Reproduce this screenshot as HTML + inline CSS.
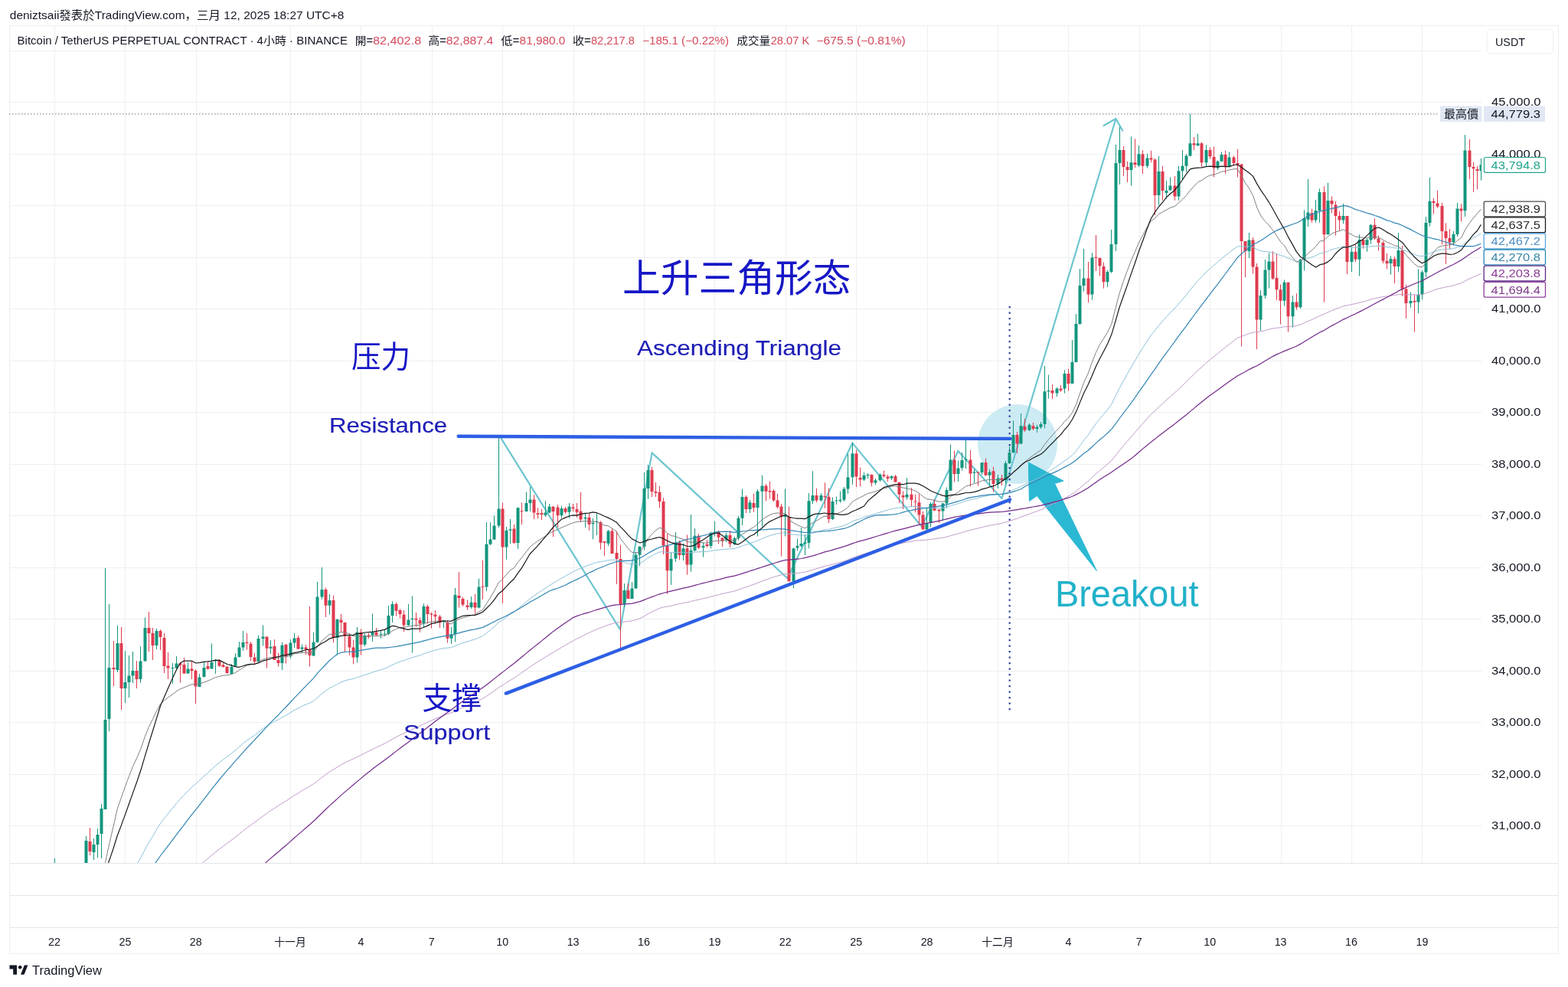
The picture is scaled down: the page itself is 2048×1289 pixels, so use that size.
<!DOCTYPE html>
<html><head><meta charset="utf-8"><title>BTCUSDT.P 4h - TradingView</title>
<style>
html,body{margin:0;padding:0;background:#fff;}
body{width:2048px;height:1289px;overflow:hidden;position:relative;font-family:"Liberation Sans","Noto Sans CJK TC",sans-serif;}
svg{position:absolute;left:0;top:0;}
svg text{font-family:"Liberation Sans","Noto Sans CJK TC",sans-serif;}
</style></head><body>
<svg width="2048" height="1289" viewBox="0 0 2048 1289">
<defs><clipPath id="plot"><rect x="12" y="33" width="1923" height="1094"/></clipPath></defs>
<rect width="2048" height="1289" fill="#fff"/>

<path d="M12.5 33.5H2035.5V1245.5H12.5Z" fill="none" stroke="#eceef2" stroke-width="1"/>
<path d="M12 1127.5H2036M12 1169.5H2036M12 1211.5H2036" stroke="#e3e5ea" stroke-width="1.2"/>
<path d="M12 66.5H1935M12 133.5H1935M12 201.5H1935M12 268.5H1935M12 336.5H1935M12 403.5H1935M12 471.5H1935M12 538.5H1935M12 606.5H1935M12 673.5H1935M12 741.5H1935M12 808.5H1935M12 876.5H1935M12 943.5H1935M12 1011.5H1935M12 1078.5H1935M71.5 33V1127M163.5 33V1127M256.5 33V1127M379.5 33V1127M471.5 33V1127M564.5 33V1127M656.5 33V1127M749.5 33V1127M841.5 33V1127M933.5 33V1127M1026.5 33V1127M1118.5 33V1127M1211.5 33V1127M1303.5 33V1127M1395.5 33V1127M1488.5 33V1127M1580.5 33V1127M1673.5 33V1127M1765.5 33V1127M1857.5 33V1127" stroke="#eeeff1" stroke-width="1" fill="none"/>
<circle cx="1329" cy="580" r="52" fill="#cdebf3"/>
<polyline points="652.9,569.8 810,822.2 851.5,591.4 1028.5,755.3 1113.4,578.6 1204,688 1251.4,589 1308.5,651 1457.5,155" fill="none" stroke="#6cc6d0" stroke-width="2.2" stroke-linejoin="round"/>
<path d="M1441.6 164L1457.5 155L1466.3 170.7" fill="none" stroke="#6cc6d0" stroke-width="2.2" stroke-linecap="round" stroke-linejoin="round"/>
<path d="M1318.7 400V932" stroke="#2d3f98" stroke-width="2.2" stroke-dasharray="2.2 5.3"/>
<g clip-path="url(#plot)">
<path d="M71.5 1121V1140M112.5 1092V1135M122.5 1095V1123M127.5 1082V1120M132.5 1050V1121M137.5 742V1057M142.5 789V955M153.5 817V878M163.5 850V918M168.5 856V911M173.5 851V892M183.5 844V892M189.5 806.5V863.5M204.5 821V848M225.5 866V893M230.5 857V873.4M245.5 865V880M260.5 880V897M266.5 865V884.5M276.5 840.5V873.4M281.5 861V880M302.5 867.2V880.5M307.5 853.3V870.3M312.5 838V858.6M317.5 824V850M337.5 829.6V864M343.5 816.4V843.5M353.5 836V854M368.5 838.8V875M379.5 835V860M384.5 827V846M394.5 841.5V853M409.5 826V856.6M414.5 759.7V839.5M420.5 741V782.8M430.5 776V802.6M440.5 808V855.5M466.5 819V865.4M476.5 827V844.3M486.5 801.5V838M497.5 823.8V833.8M502.5 823V831M507.5 791V829.4M512.5 785.3V813M533.5 789V817M538.5 778.5V852.4M553.5 788.4V819M579.5 810V820M589.5 819V841M594.5 768V838.4M615.5 779V795M625.5 755.6V794.4M635.5 682V772M640.5 682V712M645.5 673.4V705M651.5 570V689M661.5 688V730.8M666.5 678V710M676.5 662.6V716.9M687.5 642.4V668M692.5 636V668M712.5 654V675M717.5 658V670M733.5 660.6V676.7M743.5 657V676.7M764.5 670.4V689M774.5 676.7V704.3M779.5 670.4V699M794.5 691.8V713M815.5 762V792.6M825.5 760V782M830.5 721V768.5M835.5 713V739M841.5 617V718.6M846.5 607V651.7M876.5 721.6V763.8M882.5 695V734M892.5 709.7V732M902.5 672V746.6M907.5 690V720M918.5 708.4V727.5M928.5 694.5V716.3M933.5 680.7V700.5M948.5 695.9V707.7M959.5 701V712M964.5 674V705.8M969.5 638.5V686M979.5 653V670M989.5 639V700.5M995.5 620.7V687.3M1025.5 638.4V700.4M1036.5 715.5V768M1041.5 703.6V719.5M1046.5 689.3V714.7M1051.5 698V725M1056.5 644V716.3M1061.5 615.3V658.3M1072.5 644V655M1087.5 649.5V679M1092.5 648.7V659M1097.5 641.6V656.7M1102.5 636V655M1107.5 593V644.8M1113.5 578V632.8M1128.5 617V628M1133.5 618V625M1143.5 625V633M1149.5 618V629M1164.5 621V627M1184.5 624V652.5M1210.5 663.7V691.6M1215.5 655.6V688.5M1231.5 656.9V679.2M1236.5 636.4V663.7M1241.5 580.5V640.7M1251.5 601.6V629M1256.5 591V614.6M1261.5 571.8V612.2M1272.5 612.8V630.8M1282.5 604V620M1292.5 612.8V634.5M1303.5 620V638M1313.5 602V632.4M1318.5 583.4V606M1323.5 549.3V592M1333.5 540V580M1344.5 553V563M1354.5 554.7V564.8M1359.5 551V560M1364.5 477.9V559.4M1369.5 489.5V520.5M1380.5 505.8V518M1390.5 483.3V513.6M1400.5 444V501M1405.5 410V473M1410.5 351V424M1415.5 324.8V380.6M1426.5 330V391.5M1446.5 352.7V375M1451.5 300V356.6M1457.5 188.7V328M1462.5 165.8V241M1477.5 178.3V242.5M1487.5 190V218M1498.5 200.5V219.6M1513.5 204V267.6M1523.5 235.9V259.5M1528.5 231.4V249M1539.5 216.7V261.7M1544.5 196V234.4M1549.5 201.2V224.8M1554.5 148.8V204.2M1564.5 174.7V191M1575.5 189.4V217.4M1590.5 209.3V221.9M1595.5 198.3V211.5M1605.5 198.3V218.2M1631.5 304V337M1646.5 379V432M1652.5 339V390M1657.5 330.4V376.5M1677.5 365.4V399.6M1688.5 386V427.7M1698.5 338V403M1703.5 274.3V353.5M1708.5 234V296M1718.5 261V290.7M1723.5 246.4V290.7M1734.5 238.6V306.2M1754.5 265.8V292.2M1765.5 321.7V355M1775.5 306.2V360.5M1785.5 311.6V328.7M1790.5 293V318.6M1816.5 334.2V358.7M1826.5 304V355.4M1842.5 381.5V401.8M1852.5 351.3V409M1857.5 353V391.2M1862.5 283V362M1867.5 232V295.6M1898.5 301.9V320.7M1903.5 264.9V308.9M1913.5 176.2V283M1934.5 206.9V235.5" stroke="#12957d" stroke-width="1" fill="none"/>
<path d="M117.5 1081V1117M148.5 837V896M158.5 819V927M178.5 863V899M194.5 799V851M199.5 820V862M209.5 822V849M214.5 827V879M219.5 852V887M235.5 865V891.5M240.5 859V880M250.5 863.6V887M255.5 874V919M271.5 864V874.7M286.5 861V870.7M291.5 866V871.7M296.5 869.8V879.6M322.5 827V848.7M327.5 838V863M332.5 852.7V868M348.5 831.6V872.5M358.5 835V862M363.5 852.7V870.5M373.5 840.8V866.5M389.5 830V848M399.5 842V855M404.5 792V870.5M425.5 767.6V805.9M435.5 777.5V839.5M445.5 802V825.7M450.5 812.6V851M456.5 827V856M461.5 835.6V867.3M471.5 821.3V855.5M481.5 827V834.4M491.5 820V831M517.5 786.6V804.6M522.5 795.3V807.7M527.5 797V825M543.5 800V819M548.5 806.4V825.7M558.5 789.7V814.5M563.5 799.6V820.7M568.5 797V814.5M574.5 803V820M584.5 809.9V839.7M599.5 747V793.6M604.5 779.7V792M610.5 783.6V796.7M620.5 775.8V801.4M630.5 731.6V782.8M656.5 656.4V788M671.5 685V710M681.5 656.4V685M697.5 646.3V678M702.5 663.3V677.3M707.5 665V679M722.5 661V701M728.5 659V689M738.5 662V671M748.5 658V668M753.5 657V675.8M758.5 642.8V682M769.5 671V692.7M784.5 680.3V717.7M789.5 707V725.7M799.5 690V723M805.5 693.6V763M810.5 711.5V846M820.5 762V782M851.5 609.8V649M856.5 630V649M861.5 634.8V663.3M866.5 650V724M871.5 697V775.7M887.5 705.8V731.5M897.5 698.5V750.6M912.5 697V717M923.5 705V715M938.5 693V710.4M943.5 701.8V714.3M953.5 693V715M974.5 647V670M984.5 644.4V668.8M1000.5 632V654.3M1005.5 628.6V651.7M1010.5 639V655M1015.5 644.8V664M1020.5 658V726.7M1030.5 661.5V759.3M1066.5 637.6V656M1077.5 630.4V663.8M1082.5 637.6V683M1118.5 587.5V636M1123.5 610.6V635.2M1138.5 619.3V635.2M1154.5 614.5V624M1159.5 620V629M1169.5 620V630M1174.5 629.5V656.9M1179.5 641.3V665M1190.5 637V661.2M1195.5 645.7V669.3M1200.5 644.4V684.2M1205.5 668V691.6M1220.5 651.9V667.4M1226.5 665V683M1246.5 588.6V629.5M1267.5 588V635.7M1277.5 615.9V634.5M1287.5 598.5V621.5M1297.5 609.7V642.6M1308.5 620V634M1328.5 564V592M1338.5 547V564M1349.5 552V562M1374.5 502V521.3M1385.5 503V512M1395.5 481.7V510.5M1421.5 341.9V395.3M1431.5 307V354M1436.5 336.4V360.5M1441.5 342.6V376.7M1467.5 191V230M1472.5 210.8V238M1482.5 181.3V219M1492.5 196V227M1503.5 196.8V212.3M1508.5 207V280.8M1518.5 216.7V261.7M1534.5 230V261.7M1559.5 179V196M1569.5 185.7V218.2M1580.5 192.4V207.8M1585.5 191.6V231.4M1600.5 196.8V227M1611.5 203.4V216.7M1616.5 194.6V231.4M1621.5 214V452.5M1626.5 315V362M1636.5 310V357.7M1641.5 344V456M1662.5 328V365.4M1667.5 331.3V392M1672.5 371.4V423.5M1682.5 368.8V433.7M1693.5 383.3V404.7M1713.5 272.8V290.7M1729.5 243.3V394.7M1739.5 256.5V278.2M1744.5 262.7V307.7M1749.5 276V301.5M1759.5 282V358M1770.5 320V342M1780.5 311.6V324.8M1795.5 285.4V313.2M1800.5 307.4V327.7M1806.5 314.7V344M1811.5 331V351.3M1821.5 335V370M1831.5 321V387M1836.5 371.7V415.7M1847.5 384.7V433.6M1872.5 258.6V279.5M1877.5 248.8V271.8M1883.5 264.9V319.3M1888.5 291.4V345M1893.5 299V325.6M1908.5 266.3V289.3M1919.5 181.8V234M1924.5 211.8V250.9M1929.5 216.7V247.4" stroke="#df3a4e" stroke-width="1" fill="none"/>
<path d="M69.5 1135h4.0V1136h-4.0zM110.5 1098h4.0V1130h-4.0zM120.5 1103h4.0V1113h-4.0zM125.5 1090h4.0V1103h-4.0zM130.5 1056h4.0V1089h-4.0zM135.5 940h4.0V1057h-4.0zM140.5 872h4.0V939h-4.0zM151.5 840h4.0V875h-4.0zM161.5 891h4.0V899h-4.0zM166.5 882.6h4.0V891h-4.0zM171.5 876h4.0V882.6h-4.0zM181.5 863.5h4.0V887h-4.0zM187.5 820h4.0V863.5h-4.0zM202.5 824h4.0V843h-4.0zM223.5 872h4.0V873h-4.0zM228.5 866.4h4.0V872.6h-4.0zM243.5 873.4h4.0V879.6h-4.0zM258.5 884.5h4.0V897h-4.0zM264.5 872h4.0V884h-4.0zM274.5 865h4.0V873.4h-4.0zM279.5 862h4.0V863.6h-4.0zM300.5 870.7h4.0V880h-4.0zM305.5 858.4h4.0V869.8h-4.0zM310.5 845.4h4.0V858h-4.0zM315.5 838.8h4.0V845.4h-4.0zM335.5 834h4.0V864h-4.0zM341.5 831.6h4.0V834h-4.0zM351.5 844.8h4.0V846.8h-4.0zM366.5 842.8h4.0V866h-4.0zM377.5 839.5h4.0V857.3h-4.0zM382.5 833.6h4.0V839.5h-4.0zM392.5 845.4h4.0V847.4h-4.0zM407.5 838.8h4.0V856.6h-4.0zM412.5 779.5h4.0V838.8h-4.0zM418.5 770h4.0V779.5h-4.0zM428.5 784h4.0V790.7h-4.0zM438.5 809h4.0V833h-4.0zM464.5 825.7h4.0V858.6h-4.0zM474.5 830h4.0V841.8h-4.0zM484.5 825.7h4.0V829.4h-4.0zM495.5 828h4.0V829h-4.0zM500.5 827.5h4.0V828.5h-4.0zM505.5 804h4.0V828h-4.0zM510.5 789h4.0V804h-4.0zM531.5 809.5h4.0V816.4h-4.0zM536.5 807.7h4.0V809h-4.0zM551.5 792h4.0V814.5h-4.0zM577.5 810.4h4.0V812h-4.0zM587.5 828.3h4.0V833.7h-4.0zM592.5 777h4.0V828h-4.0zM613.5 786.7h4.0V793h-4.0zM623.5 766.5h4.0V793.6h-4.0zM633.5 710.7h4.0V766.5h-4.0zM638.5 704.5h4.0V710.7h-4.0zM643.5 686.6h4.0V704.5h-4.0zM649.5 664.4h4.0V686.6h-4.0zM659.5 692.8h4.0V714.5h-4.0zM664.5 691.3h4.0V692.8h-4.0zM674.5 663.3h4.0V709h-4.0zM685.5 657h4.0V668h-4.0zM690.5 652.5h4.0V657h-4.0zM710.5 669.5h4.0V672.7h-4.0zM715.5 661.8h4.0V669.5h-4.0zM731.5 664h4.0V673h-4.0zM741.5 661.5h4.0V668.7h-4.0zM762.5 675.8h4.0V677.6h-4.0zM772.5 683h4.0V684.2h-4.0zM777.5 681h4.0V682h-4.0zM792.5 693.6h4.0V709.7h-4.0zM813.5 771h4.0V789h-4.0zM823.5 768.5h4.0V782h-4.0zM828.5 724.8h4.0V768.5h-4.0zM833.5 714h4.0V724.8h-4.0zM839.5 638h4.0V714h-4.0zM844.5 614h4.0V638h-4.0zM874.5 730h4.0V745.3h-4.0zM880.5 708.4h4.0V729.5h-4.0zM890.5 716.3h4.0V725h-4.0zM900.5 719h4.0V737.4h-4.0zM905.5 699.8h4.0V719h-4.0zM916.5 713h4.0V715h-4.0zM926.5 695.9h4.0V713h-4.0zM931.5 694.5h4.0V696.5h-4.0zM946.5 699h4.0V704.4h-4.0zM957.5 703h4.0V710.4h-4.0zM962.5 676.7h4.0V703h-4.0zM967.5 649h4.0V676.7h-4.0zM977.5 656.3h4.0V664.9h-4.0zM987.5 641.8h4.0V662.9h-4.0zM993.5 634.5h4.0V641.8h-4.0zM1023.5 672.6h4.0V675h-4.0zM1034.5 716.3h4.0V759.3h-4.0zM1039.5 713h4.0V715.5h-4.0zM1044.5 710h4.0V713h-4.0zM1049.5 708.4h4.0V710h-4.0zM1054.5 654.3h4.0V709h-4.0zM1059.5 647h4.0V654.3h-4.0zM1070.5 647h4.0V653.5h-4.0zM1085.5 655h4.0V678h-4.0zM1090.5 653.5h4.0V654.5h-4.0zM1095.5 652.7h4.0V654.3h-4.0zM1100.5 638.4h4.0V652.7h-4.0zM1105.5 623.3h4.0V638.4h-4.0zM1111.5 592.3h4.0V623.3h-4.0zM1126.5 621h4.0V626.5h-4.0zM1131.5 620h4.0V621h-4.0zM1141.5 627.3h4.0V630.4h-4.0zM1147.5 620h4.0V627.3h-4.0zM1162.5 622h4.0V624.6h-4.0zM1182.5 645.7h4.0V649.4h-4.0zM1208.5 683h4.0V691.6h-4.0zM1213.5 658h4.0V683h-4.0zM1229.5 657.5h4.0V667.4h-4.0zM1234.5 640h4.0V657.5h-4.0zM1239.5 600.4h4.0V640.7h-4.0zM1249.5 611.5h4.0V619h-4.0zM1254.5 601h4.0V611h-4.0zM1259.5 599.5h4.0V600.5h-4.0zM1270.5 616.5h4.0V617.7h-4.0zM1280.5 604h4.0V617h-4.0zM1290.5 616.5h4.0V620.8h-4.0zM1301.5 624.6h4.0V632h-4.0zM1311.5 605h4.0V627h-4.0zM1316.5 591h4.0V605h-4.0zM1321.5 568h4.0V591h-4.0zM1331.5 556.3h4.0V579.6h-4.0zM1342.5 554.7h4.0V561.7h-4.0zM1352.5 557.8h4.0V560h-4.0zM1357.5 554h4.0V557.8h-4.0zM1362.5 511.2h4.0V554h-4.0zM1367.5 510h4.0V511.2h-4.0zM1378.5 507.4h4.0V513.6h-4.0zM1388.5 488h4.0V507.4h-4.0zM1398.5 472.9h4.0V501h-4.0zM1403.5 423h4.0V473h-4.0zM1408.5 372.9h4.0V423h-4.0zM1413.5 363.6h4.0V372.9h-4.0zM1424.5 336.4h4.0V384.5h-4.0zM1444.5 355h4.0V368.2h-4.0zM1449.5 319h4.0V355h-4.0zM1455.5 213h4.0V319h-4.0zM1460.5 196h4.0V213h-4.0zM1475.5 212.3h4.0V222h-4.0zM1485.5 201.2h4.0V216h-4.0zM1496.5 206.4h4.0V216.7h-4.0zM1511.5 224h4.0V255h-4.0zM1521.5 249h4.0V252h-4.0zM1526.5 242.5h4.0V248.4h-4.0zM1537.5 223.3h4.0V256.5h-4.0zM1542.5 216.7h4.0V223.3h-4.0zM1547.5 203.4h4.0V216.7h-4.0zM1552.5 187.2h4.0V203.4h-4.0zM1562.5 187.2h4.0V190.1h-4.0zM1573.5 196h4.0V212.3h-4.0zM1588.5 210.8h4.0V219.6h-4.0zM1593.5 202h4.0V210.8h-4.0zM1603.5 205.6h4.0V217.4h-4.0zM1629.5 313.4h4.0V328h-4.0zM1644.5 386h4.0V417.5h-4.0zM1650.5 352.6h4.0V386h-4.0zM1655.5 341.5h4.0V352.6h-4.0zM1675.5 368.8h4.0V392.7h-4.0zM1686.5 394.4h4.0V413.2h-4.0zM1696.5 339h4.0V401.3h-4.0zM1701.5 285h4.0V338h-4.0zM1706.5 277.5h4.0V286.8h-4.0zM1716.5 275h4.0V287.5h-4.0zM1721.5 251h4.0V275h-4.0zM1732.5 262h4.0V306.2h-4.0zM1752.5 282h4.0V287.5h-4.0zM1763.5 328.7h4.0V342h-4.0zM1773.5 313.2h4.0V338.8h-4.0zM1783.5 313.2h4.0V320h-4.0zM1788.5 293.8h4.0V313.2h-4.0zM1814.5 338.3h4.0V344h-4.0zM1824.5 327h4.0V348h-4.0zM1840.5 392.9h4.0V396h-4.0zM1850.5 384.7h4.0V394.5h-4.0zM1855.5 355.4h4.0V384.7h-4.0zM1860.5 291h4.0V355.4h-4.0zM1865.5 262.8h4.0V291h-4.0zM1896.5 306h4.0V316.5h-4.0zM1901.5 272.5h4.0V306h-4.0zM1911.5 196.4h4.0V275.3h-4.0zM1932.5 215.3h4.0V223h-4.0z" fill="#12957d"/>
<path d="M115.5 1099h4.0V1112h-4.0zM146.5 872h4.0V874h-4.0zM156.5 840h4.0V899h-4.0zM176.5 876h4.0V887h-4.0zM192.5 820h4.0V827h-4.0zM197.5 827h4.0V843h-4.0zM207.5 824h4.0V832h-4.0zM212.5 833h4.0V870h-4.0zM217.5 869.4h4.0V872.6h-4.0zM233.5 866.4h4.0V868.5h-4.0zM238.5 868h4.0V879.6h-4.0zM248.5 873.4h4.0V876h-4.0zM253.5 876h4.0V896.4h-4.0zM269.5 870h4.0V873.4h-4.0zM284.5 862h4.0V869.8h-4.0zM289.5 868.4h4.0V871h-4.0zM294.5 870.7h4.0V879.1h-4.0zM320.5 838.8h4.0V840h-4.0zM325.5 840.8h4.0V858h-4.0zM330.5 858.6h4.0V864h-4.0zM346.5 831.6h4.0V846.8h-4.0zM356.5 844h4.0V862h-4.0zM361.5 862h4.0V866h-4.0zM371.5 842h4.0V857.3h-4.0zM387.5 833h4.0V847.4h-4.0zM397.5 845.4h4.0V848h-4.0zM402.5 848h4.0V856h-4.0zM423.5 770h4.0V790.7h-4.0zM433.5 784h4.0V833h-4.0zM443.5 809.5h4.0V813h-4.0zM448.5 813h4.0V830.6h-4.0zM454.5 831h4.0V845.5h-4.0zM459.5 845.5h4.0V858.6h-4.0zM469.5 825.7h4.0V841.8h-4.0zM479.5 829.4h4.0V831.3h-4.0zM489.5 825.7h4.0V829.4h-4.0zM515.5 789h4.0V797.7h-4.0zM520.5 797h4.0V802h-4.0zM525.5 802.7h4.0V816.4h-4.0zM541.5 807.7h4.0V809.5h-4.0zM546.5 810h4.0V814.5h-4.0zM556.5 792h4.0V802h-4.0zM561.5 801.5h4.0V802.7h-4.0zM566.5 802.7h4.0V805.2h-4.0zM572.5 805.2h4.0V813.3h-4.0zM582.5 812.6h4.0V833.7h-4.0zM597.5 778h4.0V781h-4.0zM602.5 782h4.0V789.8h-4.0zM608.5 790.5h4.0V793h-4.0zM618.5 786.7h4.0V793.6h-4.0zM628.5 765.7h4.0V766.8h-4.0zM654.5 664.4h4.0V714.5h-4.0zM669.5 690.5h4.0V709h-4.0zM679.5 667.2h4.0V668.2h-4.0zM695.5 652.5h4.0V669.5h-4.0zM700.5 670.3h4.0V672h-4.0zM705.5 670h4.0V672h-4.0zM720.5 661.8h4.0V668h-4.0zM726.5 662.4h4.0V673h-4.0zM736.5 664h4.0V668.7h-4.0zM746.5 662.4h4.0V664.2h-4.0zM751.5 665h4.0V668.7h-4.0zM756.5 667.8h4.0V678.5h-4.0zM767.5 675.8h4.0V684.7h-4.0zM782.5 682h4.0V708.8h-4.0zM787.5 707h4.0V708.8h-4.0zM797.5 693.6h4.0V723h-4.0zM803.5 722h4.0V730h-4.0zM808.5 730h4.0V789h-4.0zM818.5 771h4.0V782h-4.0zM849.5 614h4.0V642h-4.0zM854.5 642h4.0V643.7h-4.0zM859.5 642.8h4.0V655h-4.0zM864.5 655h4.0V712.4h-4.0zM869.5 712.4h4.0V745.3h-4.0zM885.5 708.4h4.0V725h-4.0zM895.5 716.3h4.0V737.4h-4.0zM910.5 699.8h4.0V715.6h-4.0zM921.5 711h4.0V713h-4.0zM936.5 693.9h4.0V701.8h-4.0zM941.5 702.5h4.0V706.4h-4.0zM951.5 699h4.0V710.4h-4.0zM972.5 649h4.0V664.9h-4.0zM982.5 657h4.0V662.9h-4.0zM998.5 634.5h4.0V641.8h-4.0zM1003.5 641h4.0V642.4h-4.0zM1008.5 641h4.0V653.6h-4.0zM1013.5 653.5h4.0V662.3h-4.0zM1018.5 661.5h4.0V675h-4.0zM1028.5 675h4.0V759.3h-4.0zM1064.5 647h4.0V653.5h-4.0zM1075.5 648h4.0V649h-4.0zM1080.5 648.7h4.0V678h-4.0zM1116.5 592.3h4.0V622.5h-4.0zM1121.5 624h4.0V626.5h-4.0zM1136.5 620h4.0V630.4h-4.0zM1152.5 620h4.0V621.7h-4.0zM1157.5 622.5h4.0V625h-4.0zM1167.5 622h4.0V629.5h-4.0zM1172.5 630h4.0V645.7h-4.0zM1177.5 647h4.0V649.4h-4.0zM1188.5 645.7h4.0V653h-4.0zM1193.5 654.4h4.0V655.6h-4.0zM1198.5 656.2h4.0V672.4h-4.0zM1203.5 672.4h4.0V691.6h-4.0zM1218.5 658h4.0V666.8h-4.0zM1224.5 665.6h4.0V667.4h-4.0zM1244.5 600.4h4.0V619h-4.0zM1265.5 600.4h4.0V618.4h-4.0zM1275.5 616.5h4.0V617.5h-4.0zM1285.5 604h4.0V620.8h-4.0zM1295.5 615.3h4.0V632h-4.0zM1306.5 624.6h4.0V627.7h-4.0zM1326.5 568h4.0V579.6h-4.0zM1336.5 557h4.0V561.7h-4.0zM1347.5 556.3h4.0V560h-4.0zM1372.5 510h4.0V513.6h-4.0zM1383.5 507.4h4.0V509.7h-4.0zM1393.5 488h4.0V501h-4.0zM1419.5 363.6h4.0V384.5h-4.0zM1429.5 335.7h4.0V337h-4.0zM1434.5 337h4.0V347.3h-4.0zM1439.5 348h4.0V368.2h-4.0zM1465.5 196h4.0V218h-4.0zM1470.5 218h4.0V222h-4.0zM1480.5 212.3h4.0V215h-4.0zM1490.5 201.2h4.0V216.7h-4.0zM1501.5 206.4h4.0V208.6h-4.0zM1506.5 208.6h4.0V255h-4.0zM1516.5 224h4.0V249h-4.0zM1532.5 242.5h4.0V256.5h-4.0zM1557.5 187.2h4.0V189.4h-4.0zM1567.5 187.2h4.0V212.3h-4.0zM1578.5 196h4.0V204.2h-4.0zM1583.5 204.9h4.0V219.6h-4.0zM1598.5 202h4.0V217.4h-4.0zM1609.5 205.6h4.0V213h-4.0zM1614.5 213h4.0V215.2h-4.0zM1619.5 214.5h4.0V315h-4.0zM1624.5 315h4.0V328h-4.0zM1634.5 313.4h4.0V348.4h-4.0zM1639.5 348.4h4.0V417.5h-4.0zM1660.5 341.5h4.0V363.7h-4.0zM1665.5 363h4.0V378.2h-4.0zM1670.5 378.2h4.0V392.7h-4.0zM1680.5 368.8h4.0V413.2h-4.0zM1691.5 394.4h4.0V401.3h-4.0zM1711.5 278.2h4.0V287.5h-4.0zM1727.5 251h4.0V306.2h-4.0zM1737.5 262h4.0V266.6h-4.0zM1742.5 267.4h4.0V282h-4.0zM1747.5 282h4.0V287.5h-4.0zM1757.5 282h4.0V342h-4.0zM1768.5 328.7h4.0V338.8h-4.0zM1778.5 313.2h4.0V320h-4.0zM1793.5 293.8h4.0V311.4h-4.0zM1798.5 311.4h4.0V317h-4.0zM1804.5 317h4.0V340.7h-4.0zM1809.5 340.7h4.0V344h-4.0zM1819.5 338.3h4.0V348h-4.0zM1829.5 327h4.0V377.4h-4.0zM1834.5 377.4h4.0V396h-4.0zM1845.5 392.9h4.0V394.5h-4.0zM1870.5 262.8h4.0V264.9h-4.0zM1875.5 265.6h4.0V269.7h-4.0zM1881.5 269h4.0V301.9h-4.0zM1886.5 301.9h4.0V311h-4.0zM1891.5 311h4.0V316.5h-4.0zM1906.5 272.5h4.0V275.3h-4.0zM1917.5 196.4h4.0V218h-4.0zM1922.5 218h4.0V220.2h-4.0zM1927.5 220.9h4.0V223h-4.0z" fill="#df3a4e"/>
<path d="M1343.4 604L1389 628L1377.5 631.5L1432.4 745.4L1354.4 647.5L1344.4 654.5Z" fill="#2bb8d3" stroke="#2bb8d3" stroke-width="1" stroke-linejoin="round"/>
<polyline points="-0.9,1324.5 4.3,1322.4 9.4,1320.1 14.5,1317.9 19.7,1315.6 24.8,1313.3 29.9,1311.1 35.1,1308.8 40.2,1306.6 45.3,1304.4 50.5,1302.2 55.6,1300 60.7,1297.8 65.9,1295.7 71,1293.6 76.1,1291.6 81.3,1289.5 86.4,1287.5 91.5,1285.5 96.7,1283.5 101.8,1281.6 106.9,1279.7 112.1,1276.7 117.2,1274 122.3,1271.1 127.5,1268.1 132.6,1264.6 137.7,1259.3 142.9,1252.9 148,1246.6 153.1,1239.9 158.3,1234.2 163.4,1228.6 168.5,1222.9 173.7,1217.1 178.8,1211.7 183.9,1205.9 189.1,1199.5 194.2,1193.4 199.3,1187.6 204.5,1181.6 209.6,1175.8 214.7,1170.7 219.9,1165.8 225,1161 230.1,1156.1 235.3,1151.3 240.4,1146.8 245.5,1142.3 250.7,1137.9 255.8,1133.9 260.9,1129.8 266.1,1125.5 271.2,1121.4 276.3,1117.1 281.5,1112.9 286.6,1108.9 291.7,1105 296.9,1101.2 302,1097.4 307.1,1093.5 312.3,1089.4 317.4,1085.2 322.5,1081.2 327.7,1077.5 332.8,1074 337.9,1070 343.1,1066.1 348.2,1062.4 353.3,1058.8 358.5,1055.6 363.6,1052.4 368.7,1049 373.9,1045.8 379,1042.4 384.1,1039 389.3,1035.8 394.4,1032.6 399.5,1029.6 404.7,1026.7 409.8,1023.6 414.9,1019.6 420.1,1015.5 425.2,1011.7 430.3,1008 435.5,1005.1 440.6,1001.8 445.7,998.7 450.9,995.9 456,993.5 461.1,991.2 466.3,988.5 471.4,986.1 476.5,983.5 481.7,981 486.8,978.4 491.9,975.9 497.1,973.5 502.2,971.1 507.3,968.3 512.5,965.4 517.6,962.6 522.7,959.9 527.9,957.6 533,955.1 538.1,952.7 543.3,950.3 548.4,948.1 553.5,945.5 558.7,943.1 563.8,940.8 568.9,938.5 574.1,936.5 579.2,934.4 584.3,932.7 589.5,931 594.6,928.5 599.7,926 604.9,923.8 610,921.6 615.1,919.4 620.3,917.3 625.4,914.8 630.5,912.4 635.7,909 640.8,905.6 645.9,902 651.1,898.1 656.2,895.1 661.3,891.7 666.5,888.4 671.6,885.4 676.7,881.8 681.9,878.2 687,874.6 692.1,870.9 697.3,867.6 702.4,864.3 707.5,861.2 712.7,858 717.8,854.8 722.9,851.7 728.1,848.7 733.2,845.7 738.3,842.7 743.5,839.7 748.6,836.8 753.7,834.1 758.9,831.5 764,828.9 769.1,826.5 774.3,824.2 779.4,821.8 784.5,819.9 789.7,818.1 794.8,816 799.9,814.5 805.1,813.1 810.2,812.7 815.3,812 820.5,811.5 825.6,810.8 830.7,809.4 835.9,807.8 841,805 846.1,801.8 851.3,799.2 856.4,796.6 861.5,794.3 866.7,792.9 871.8,792.1 876.9,791.1 882.1,789.8 887.2,788.7 892.3,787.5 897.5,786.7 902.6,785.5 907.7,784.1 912.9,783 918,781.8 923.1,780.7 928.3,779.3 933.4,777.9 938.5,776.6 943.7,775.5 948.8,774.2 953.9,773.2 959.1,772 964.2,770.4 969.3,768.4 974.5,766.7 979.6,764.9 984.7,763.2 989.9,761.2 995,759.1 1000.1,757.2 1005.3,755.3 1010.4,753.6 1015.5,752.1 1020.7,750.8 1025.8,749.5 1030.9,749.7 1036.1,749.1 1041.2,748.5 1046.3,747.9 1051.5,747.2 1056.6,745.7 1061.7,744.1 1066.9,742.6 1072,741 1077.1,739.5 1082.3,738.4 1087.4,737.1 1092.5,735.7 1097.7,734.3 1102.8,732.7 1107.9,730.9 1113.1,728.6 1118.2,726.9 1123.3,725.2 1128.5,723.5 1133.6,721.8 1138.7,720.3 1143.9,718.7 1149,717.1 1154.1,715.5 1159.3,714 1164.4,712.5 1169.5,711.1 1174.7,710.1 1179.8,709 1184.9,708 1190.1,707.1 1195.2,706.2 1200.3,705.7 1205.5,705.4 1210.6,705.1 1215.7,704.3 1220.9,703.7 1226,703.1 1231.1,702.3 1236.3,701.3 1241.4,699.6 1246.5,698.3 1251.7,696.9 1256.8,695.3 1261.9,693.7 1267.1,692.4 1272.2,691.2 1277.3,690 1282.5,688.6 1287.6,687.4 1292.7,686.3 1297.9,685.4 1303,684.4 1308.1,683.4 1313.3,682.1 1318.4,680.6 1323.5,678.8 1328.7,677.1 1333.8,675.1 1338.9,673.3 1344.1,671.3 1349.2,669.5 1354.3,667.6 1359.5,665.7 1364.6,663.2 1369.7,660.6 1374.9,658.2 1380,655.7 1385.1,653.3 1390.3,650.6 1395.4,648.1 1400.5,645.2 1405.7,641.5 1410.8,637.1 1415.9,632.6 1421.1,628.5 1426.2,623.6 1431.3,618.9 1436.5,614.4 1441.6,610.3 1446.7,606.1 1451.9,601.4 1457,595 1462.1,588.4 1467.3,582.2 1472.4,576.3 1477.5,570.3 1482.7,564.4 1487.8,558.4 1492.9,552.7 1498.1,547 1503.2,541.4 1508.3,536.7 1513.5,531.5 1518.6,526.9 1523.7,522.3 1528.9,517.6 1534,513.3 1539.1,508.5 1544.3,503.7 1549.4,498.7 1554.5,493.6 1559.7,488.6 1564.8,483.6 1569.9,479.1 1575.1,474.4 1580.2,470 1585.3,465.8 1590.5,461.6 1595.6,457.3 1600.7,453.3 1605.9,449.3 1611,445.3 1616.1,441.5 1621.3,439.4 1626.4,437.6 1631.5,435.6 1636.7,434.1 1641.8,433.8 1646.9,433 1652.1,431.7 1657.2,430.2 1662.3,429.1 1667.5,428.3 1672.6,427.7 1677.7,426.7 1682.9,426.5 1688,426 1693.1,425.6 1698.3,424.1 1703.4,421.8 1708.5,419.4 1713.7,417.3 1718.8,414.9 1723.9,412.2 1729.1,410.5 1734.2,408 1739.3,405.7 1744.5,403.6 1749.6,401.7 1754.7,399.7 1759.9,398.8 1765,397.6 1770.1,396.6 1775.3,395.3 1780.4,394 1785.5,392.7 1790.7,391 1795.8,389.7 1800.9,388.5 1806.1,387.7 1811.2,387 1816.3,386.2 1821.5,385.6 1826.6,384.6 1831.7,384.5 1836.9,384.7 1842,384.8 1847.1,385 1852.3,385 1857.4,384.5 1862.5,382.9 1867.7,380.9 1872.8,379 1877.9,377.2 1883.1,376 1888.2,374.9 1893.3,373.9 1898.5,372.8 1903.6,371.2 1908.7,369.6 1913.9,366.7 1919,364.3 1924.1,361.9 1929.3,359.6 1934.4,357.2" fill="none" stroke="#c29ccb" stroke-width="1" stroke-linejoin="round"/>
<polyline points="-0.9,1321.1 4.3,1319.9 9.4,1318.7 14.5,1317.5 19.7,1316.3 24.8,1315.2 29.9,1314 35.1,1312.9 40.2,1311.9 45.3,1310.7 50.5,1309.6 55.6,1308.3 60.7,1307.1 65.9,1305.7 71,1304.4 76.1,1303 81.3,1301.6 86.4,1300.2 91.5,1298.8 96.7,1297.3 101.8,1295.9 106.9,1294.5 112.1,1292.6 117.2,1290.8 122.3,1289 127.5,1287.1 132.6,1284.9 137.7,1281.8 142.9,1278.1 148,1274.5 153.1,1270.6 158.3,1267.2 163.4,1263.7 168.5,1260.1 173.7,1256.6 178.8,1253.1 183.9,1249.4 189.1,1245.4 194.2,1241.4 199.3,1237.5 204.5,1233.5 209.6,1229.6 214.7,1226 219.9,1222.4 225,1218.8 230.1,1215.1 235.3,1211.5 240.4,1208 245.5,1204.4 250.7,1200.8 255.8,1197.4 260.9,1193.9 266.1,1190.2 271.2,1186.5 276.3,1182.7 281.5,1178.9 286.6,1175.1 291.7,1171.2 296.9,1167.5 302,1163.6 307.1,1159.6 312.3,1155.5 317.4,1151.3 322.5,1147.1 327.7,1143 332.8,1138.9 337.9,1134.4 343.1,1130 348.2,1125.6 353.3,1121.1 358.5,1116.8 363.6,1112.5 368.7,1108 373.9,1103.7 379,1099.1 384.1,1094.5 389.3,1090.1 394.4,1085.6 399.5,1081.2 404.7,1076.8 409.8,1072.3 414.9,1067.3 420.1,1062.2 425.2,1057.3 430.3,1052.4 435.5,1047.8 440.6,1043.1 445.7,1038.4 450.9,1033.9 456,1029.6 461.1,1025.3 466.3,1020.9 471.4,1016.6 476.5,1012.3 481.7,1008.2 486.8,1004.1 491.9,1000.2 497.1,996.4 502.2,992.8 507.3,988.9 512.5,984.9 517.6,980.9 522.7,977 527.9,973.2 533,969.4 538.1,965.5 543.3,961.6 548.4,957.7 553.5,953.7 558.7,949.7 563.8,945.7 568.9,941.8 574.1,938 579.2,934.2 584.3,930.6 589.5,927 594.6,923 599.7,919.2 604.9,915.5 610,912 615.1,908.4 620.3,905.1 625.4,901.6 630.5,898.1 635.7,894.2 640.8,890.2 645.9,886.1 651.1,881.9 656.2,878.1 661.3,874.1 666.5,870.1 671.6,866.2 676.7,862 681.9,857.8 687,853.6 692.1,849.3 697.3,845.1 702.4,841 707.5,836.9 712.7,832.7 717.8,828.5 722.9,824.4 728.1,820.8 733.2,817.1 738.3,813.5 743.5,809.9 748.6,806.6 753.7,804.4 758.9,802.8 764,801.1 769.1,799.8 774.3,798 779.4,796.3 784.5,794.8 789.7,793.4 794.8,791.8 799.9,790.6 805.1,789.9 810.2,789.6 815.3,789 820.5,788.6 825.6,788.1 830.7,786.9 835.9,785.6 841,783.6 846.1,781.5 851.3,779.6 856.4,777.7 861.5,775.8 866.7,774.5 871.8,773.2 876.9,771.9 882.1,770.6 887.2,769.3 892.3,768.1 897.5,767.1 902.6,765.8 907.7,764.4 912.9,763 918,761.7 923.1,760.5 928.3,759.2 933.4,758 938.5,756.9 943.7,755.6 948.8,754.2 953.9,753.2 959.1,752.1 964.2,750.7 969.3,749.1 974.5,747.4 979.6,745.7 984.7,744.2 989.9,742.4 995,740.7 1000.1,739.1 1005.3,737.4 1010.4,735.8 1015.5,734.2 1020.7,732.7 1025.8,731.4 1030.9,731.2 1036.1,730.7 1041.2,730.1 1046.3,729.5 1051.5,728.4 1056.6,727.1 1061.7,725.8 1066.9,724.3 1072,722.6 1077.1,720.9 1082.3,719.7 1087.4,718.1 1092.5,716.6 1097.7,715.1 1102.8,713.6 1107.9,711.9 1113.1,709.9 1118.2,708.2 1123.3,706.7 1128.5,705.3 1133.6,703.8 1138.7,702.4 1143.9,700.8 1149,699.2 1154.1,697.7 1159.3,696.2 1164.4,694.5 1169.5,693.2 1174.7,691.9 1179.8,690.6 1184.9,689.3 1190.1,687.9 1195.2,686.7 1200.3,685.3 1205.5,684.2 1210.6,683.4 1215.7,682.4 1220.9,681.3 1226,680.3 1231.1,679.2 1236.3,677.9 1241.4,676.6 1246.5,675.3 1251.7,674.5 1256.8,673.6 1261.9,672.9 1267.1,672.5 1272.2,671.7 1277.3,671.1 1282.5,670.4 1287.6,669.6 1292.7,669.2 1297.9,668.9 1303,668.7 1308.1,668.5 1313.3,667.9 1318.4,667.2 1323.5,666.4 1328.7,665.6 1333.8,664.7 1338.9,663.9 1344.1,662.9 1349.2,662 1354.3,661.1 1359.5,660.2 1364.6,658.9 1369.7,657.6 1374.9,656.2 1380,654.8 1385.1,653.4 1390.3,651.7 1395.4,650.2 1400.5,648.3 1405.7,645.9 1410.8,643.2 1415.9,640.2 1421.1,637.3 1426.2,633.6 1431.3,629.9 1436.5,626.3 1441.6,623 1446.7,619.9 1451.9,616.6 1457,613.1 1462.1,609.6 1467.3,606.1 1472.4,602.5 1477.5,598.9 1482.7,594.7 1487.8,590.2 1492.9,585.9 1498.1,581.7 1503.2,577.4 1508.3,573.6 1513.5,569.3 1518.6,565.4 1523.7,561.6 1528.9,557.7 1534,553.9 1539.1,549.8 1544.3,545.8 1549.4,541.7 1554.5,537.4 1559.7,533.1 1564.8,528.8 1569.9,524.7 1575.1,520.5 1580.2,516.5 1585.3,512.9 1590.5,509.2 1595.6,505.4 1600.7,501.7 1605.9,498 1611,494.5 1616.1,491 1621.3,488.2 1626.4,485.5 1631.5,482.6 1636.7,479.9 1641.8,477.8 1646.9,474.7 1652.1,471.6 1657.2,468.5 1662.3,465.6 1667.5,462.9 1672.6,460.7 1677.7,458.4 1682.9,456.4 1688,454.3 1693.1,452.2 1698.3,449.4 1703.4,446.3 1708.5,443.2 1713.7,440.1 1718.8,437.1 1723.9,434 1729.1,431.6 1734.2,428.6 1739.3,425.6 1744.5,422.8 1749.6,420 1754.7,417.1 1759.9,414.7 1765,412.3 1770.1,410 1775.3,407.4 1780.4,404.8 1785.5,402.2 1790.7,399.3 1795.8,396.5 1800.9,393.7 1806.1,391.1 1811.2,388.5 1816.3,385.7 1821.5,382.9 1826.6,379.9 1831.7,377.6 1836.9,375.3 1842,373 1847.1,370.8 1852.3,368.7 1857.4,366.7 1862.5,363.9 1867.7,361 1872.8,358.2 1877.9,355.5 1883.1,352.8 1888.2,350.3 1893.3,347.8 1898.5,345.3 1903.6,342.4 1908.7,339.6 1913.9,335.9 1919,332.5 1924.1,329.1 1929.3,326 1934.4,322.8" fill="none" stroke="#73298a" stroke-width="1.2" stroke-linejoin="round"/>
<polyline points="-0.9,1301.5 4.3,1298.1 9.4,1294.4 14.5,1290.8 19.7,1287.2 24.8,1283.7 29.9,1280.2 35.1,1276.7 40.2,1273.3 45.3,1270 50.5,1266.7 55.6,1263.6 60.7,1260.5 65.9,1257.5 71,1254.7 76.1,1251.8 81.3,1249.1 86.4,1246.4 91.5,1243.8 96.7,1241.3 101.8,1238.8 106.9,1236.4 112.1,1231.8 117.2,1227.9 122.3,1223.8 127.5,1219.4 132.6,1214.1 137.7,1205.1 142.9,1194.2 148,1183.7 153.1,1172.4 158.3,1163.4 163.4,1154.5 168.5,1145.6 173.7,1136.8 178.8,1128.6 183.9,1119.9 189.1,1110 194.2,1100.8 199.3,1092.3 204.5,1083.5 209.6,1075.3 214.7,1068.5 219.9,1062.1 225,1055.9 230.1,1049.7 235.3,1043.7 240.4,1038.3 245.5,1032.9 250.7,1027.8 255.8,1023.5 260.9,1018.9 266.1,1014.1 271.2,1009.5 276.3,1004.8 281.5,1000.1 286.6,995.8 291.7,991.7 296.9,988 302,984.2 307.1,980.1 312.3,975.6 317.4,971.2 322.5,966.9 327.7,963.3 332.8,960 337.9,955.9 343.1,951.8 348.2,948.4 353.3,945 358.5,942.3 363.6,939.8 368.7,936.6 373.9,934 379,930.9 384.1,927.7 389.3,925.1 394.4,922.4 399.5,920 404.7,917.9 409.8,915.3 414.9,910.9 420.1,906.2 425.2,902.5 430.3,898.6 435.5,896.4 440.6,893.6 445.7,890.9 450.9,888.9 456,887.5 461.1,886.6 466.3,884.6 471.4,883.2 476.5,881.4 481.7,879.8 486.8,878 491.9,876.4 497.1,874.8 502.2,873.3 507.3,871 512.5,868.3 517.6,866 522.7,863.9 527.9,862.3 533,860.6 538.1,858.9 543.3,857.3 548.4,855.9 553.5,853.8 558.7,852.1 563.8,850.4 568.9,849 574.1,847.8 579.2,846.6 584.3,846.1 589.5,845.6 594.6,843.3 599.7,841.3 604.9,839.6 610,838.1 615.1,836.4 620.3,835 625.4,832.7 630.5,830.6 635.7,826.6 640.8,822.6 645.9,818.2 651.1,813.1 656.2,809.9 661.3,806.1 666.5,802.3 671.6,799.2 676.7,794.8 681.9,790.6 687,786.2 692.1,781.9 697.3,778.2 702.4,774.7 707.5,771.3 712.7,768 717.8,764.5 722.9,761.3 728.1,758.4 733.2,755.3 738.3,752.5 743.5,749.5 748.6,746.7 753.7,744.2 758.9,742 764,739.8 769.1,738 774.3,736.2 779.4,734.4 784.5,733.6 789.7,732.8 794.8,731.5 799.9,731.2 805.1,731.2 810.2,733.1 815.3,734.3 820.5,735.9 825.6,736.9 830.7,736.5 835.9,735.8 841,732.6 846.1,728.7 851.3,725.9 856.4,723.2 861.5,720.9 866.7,720.7 871.8,721.5 876.9,721.7 882.1,721.3 887.2,721.4 892.3,721.3 897.5,721.8 902.6,721.7 907.7,721 912.9,720.8 918,720.5 923.1,720.3 928.3,719.5 933.4,718.7 938.5,718.1 943.7,717.7 948.8,717.1 953.9,716.9 959.1,716.5 964.2,715.1 969.3,713 974.5,711.4 979.6,709.6 984.7,708.1 989.9,705.9 995,703.6 1000.1,701.5 1005.3,699.6 1010.4,698.1 1015.5,696.9 1020.7,696.2 1025.8,695.4 1030.9,697.5 1036.1,698.1 1041.2,698.6 1046.3,699 1051.5,699.3 1056.6,697.8 1061.7,696.2 1066.9,694.8 1072,693.2 1077.1,691.7 1082.3,691.3 1087.4,690.1 1092.5,688.9 1097.7,687.7 1102.8,686.1 1107.9,684 1113.1,681 1118.2,679.1 1123.3,677.4 1128.5,675.5 1133.6,673.7 1138.7,672.3 1143.9,670.8 1149,669.1 1154.1,667.6 1159.3,666.2 1164.4,664.7 1169.5,663.6 1174.7,663 1179.8,662.6 1184.9,662 1190.1,661.7 1195.2,661.5 1200.3,661.9 1205.5,662.8 1210.6,663.5 1215.7,663.3 1220.9,663.4 1226,663.6 1231.1,663.4 1236.3,662.6 1241.4,660.6 1246.5,659.2 1251.7,657.6 1256.8,655.8 1261.9,653.9 1267.1,652.8 1272.2,651.6 1277.3,650.5 1282.5,648.9 1287.6,648 1292.7,647 1297.9,646.5 1303,645.8 1308.1,645.2 1313.3,643.9 1318.4,642.1 1323.5,639.7 1328.7,637.7 1333.8,635.1 1338.9,632.7 1344.1,630.1 1349.2,627.8 1354.3,625.5 1359.5,623.2 1364.6,619.5 1369.7,615.9 1374.9,612.5 1380,609.1 1385.1,605.8 1390.3,602 1395.4,598.7 1400.5,594.5 1405.7,588.9 1410.8,581.8 1415.9,574.7 1421.1,568.4 1426.2,560.8 1431.3,553.5 1436.5,546.7 1441.6,540.9 1446.7,534.8 1451.9,527.7 1457,517.4 1462.1,506.9 1467.3,497.4 1472.4,488.4 1477.5,479.3 1482.7,470.6 1487.8,461.8 1492.9,453.8 1498.1,445.7 1503.2,437.9 1508.3,431.9 1513.5,425.1 1518.6,419.3 1523.7,413.7 1528.9,408.1 1534,403.1 1539.1,397.2 1544.3,391.3 1549.4,385.2 1554.5,378.7 1559.7,372.5 1564.8,366.4 1569.9,361.3 1575.1,355.9 1580.2,350.9 1585.3,346.6 1590.5,342.2 1595.6,337.6 1600.7,333.6 1605.9,329.4 1611,325.6 1616.1,322 1621.3,321.8 1626.4,322 1631.5,321.7 1636.7,322.6 1641.8,325.7 1646.9,327.7 1652.1,328.5 1657.2,328.9 1662.3,330.1 1667.5,331.6 1672.6,333.6 1677.7,334.8 1682.9,337.4 1688,339.2 1693.1,341.3 1698.3,341.2 1703.4,339.3 1708.5,337.3 1713.7,335.7 1718.8,333.7 1723.9,331 1729.1,330.2 1734.2,327.9 1739.3,325.9 1744.5,324.5 1749.6,323.3 1754.7,321.9 1759.9,322.6 1765,322.8 1770.1,323.3 1775.3,323 1780.4,322.9 1785.5,322.6 1790.7,321.6 1795.8,321.3 1800.9,321.1 1806.1,321.8 1811.2,322.5 1816.3,323 1821.5,323.8 1826.6,323.9 1831.7,325.7 1836.9,328 1842,330.1 1847.1,332.2 1852.3,334 1857.4,334.7 1862.5,333.2 1867.7,330.9 1872.8,328.8 1877.9,326.8 1883.1,326 1888.2,325.5 1893.3,325.2 1898.5,324.6 1903.6,322.9 1908.7,321.3 1913.9,317.2 1919,314 1924.1,310.9 1929.3,308 1934.4,305" fill="none" stroke="#8cc3d9" stroke-width="1" stroke-linejoin="round"/>
<polyline points="-0.9,1325 4.3,1322.6 9.4,1320 14.5,1317.3 19.7,1314.5 24.8,1311.5 29.9,1308.4 35.1,1305.1 40.2,1301.8 45.3,1298.3 50.5,1294.9 55.6,1291.4 60.7,1287.9 65.9,1284.3 71,1280.7 76.1,1277.1 81.3,1273.6 86.4,1270 91.5,1266.4 96.7,1262.9 101.8,1259.3 106.9,1255.8 112.1,1251.1 117.2,1246.7 122.3,1242.1 127.5,1237.3 132.6,1231.9 137.7,1224.6 142.9,1216.3 148,1208.1 153.1,1199.3 158.3,1191.6 163.4,1183.8 168.5,1176.2 173.7,1168.6 178.8,1161.5 183.9,1154.3 189.1,1146.6 194.2,1139.3 199.3,1132.2 204.5,1124.8 209.6,1117.5 214.7,1110.8 219.9,1104.1 225,1097.4 230.1,1090.6 235.3,1083.8 240.4,1077.2 245.5,1070.4 250.7,1063.7 255.8,1057.3 260.9,1050.8 266.1,1044.1 271.2,1037.6 276.3,1030.9 281.5,1024.3 286.6,1018 291.7,1011.8 296.9,1005.9 302,1000.1 307.1,994.2 312.3,988.4 317.4,982.6 322.5,976.9 327.7,971.5 332.8,966.2 337.9,960.5 343.1,954.8 348.2,949.4 353.3,943.9 358.5,938.7 363.6,933.7 368.7,928.2 373.9,923 379,917.5 384.1,911.9 389.3,906.6 394.4,901.2 399.5,895.9 404.7,890.7 409.8,885.3 414.9,878.8 420.1,873.4 425.2,868 430.3,862.7 435.5,858.4 440.6,854.3 445.7,852.2 450.9,851.5 456,851 461.1,851.3 466.3,850.1 471.4,849.3 476.5,848.4 481.7,847.7 486.8,846.6 491.9,846.1 497.1,846.2 502.2,846.2 507.3,845.6 512.5,845 517.6,844.4 522.7,843.3 527.9,842.3 533,841.3 538.1,840.3 543.3,839.3 548.4,838.3 553.5,836.9 558.7,835.7 563.8,834.1 568.9,832.8 574.1,831.8 579.2,830.8 584.3,830.2 589.5,829.7 594.6,828.1 599.7,826.6 604.9,825.1 610,823.8 615.1,822.6 620.3,821.8 625.4,820.6 630.5,819.4 635.7,816.9 640.8,814.2 645.9,811.8 651.1,809 656.2,806.8 661.3,804.3 666.5,801.4 671.6,798.8 676.7,795.8 681.9,792.7 687,789.6 692.1,786.6 697.3,783.6 702.4,780.7 707.5,777.8 712.7,774.7 717.8,771.8 722.9,769.9 728.1,768.3 733.2,766.2 738.3,764.2 743.5,761.4 748.6,759 753.7,756.6 758.9,754 764,751.2 769.1,748.3 774.3,745.9 779.4,743.2 784.5,741.2 789.7,739.2 794.8,737 799.9,735.2 805.1,733.6 810.2,732.9 815.3,732.4 820.5,732.3 825.6,731.8 830.7,730.5 835.9,728.8 841,725.9 846.1,722.7 851.3,719.9 856.4,717.1 861.5,714.8 866.7,713.3 871.8,712.3 876.9,711.1 882.1,709.3 887.2,707.9 892.3,705.9 897.5,704.4 902.6,703.5 907.7,702.1 912.9,700.9 918,699.5 923.1,698.3 928.3,696.7 933.4,695.5 938.5,694.4 943.7,694.3 948.8,694.2 953.9,694.6 959.1,695.3 964.2,694.6 969.3,693.9 974.5,693.5 979.6,692.6 984.7,692.6 989.9,692.2 995,691.8 1000.1,691.6 1005.3,691.2 1010.4,690.8 1015.5,690.7 1020.7,690.8 1025.8,691 1030.9,692.5 1036.1,693.2 1041.2,694 1046.3,694.7 1051.5,695.5 1056.6,695.3 1061.7,695 1066.9,694.5 1072,694.1 1077.1,693.5 1082.3,693.4 1087.4,692.9 1092.5,692 1097.7,691.1 1102.8,690.2 1107.9,688.5 1113.1,686.2 1118.2,683.4 1123.3,681 1128.5,678.3 1133.6,675.9 1138.7,674.3 1143.9,672.9 1149,672.6 1154.1,672.7 1159.3,672.4 1164.4,672 1169.5,671.6 1174.7,670.5 1179.8,668.9 1184.9,667.5 1190.1,666.6 1195.2,665.4 1200.3,664.7 1205.5,663.9 1210.6,663.3 1215.7,662.6 1220.9,661.8 1226,661.1 1231.1,660.1 1236.3,659.2 1241.4,657.6 1246.5,656.2 1251.7,654.7 1256.8,653 1261.9,651.2 1267.1,649.8 1272.2,648.8 1277.3,648.2 1282.5,647.2 1287.6,646.6 1292.7,645.9 1297.9,645.7 1303,645.5 1308.1,645.3 1313.3,644.7 1318.4,643.6 1323.5,642.1 1328.7,640.5 1333.8,638.5 1338.9,635.2 1344.1,632.5 1349.2,630 1354.3,627.5 1359.5,624.9 1364.6,622.5 1369.7,620.2 1374.9,617.9 1380,615.6 1385.1,613.2 1390.3,610.1 1395.4,607.5 1400.5,604.5 1405.7,600.7 1410.8,596.2 1415.9,591.9 1421.1,588.5 1426.2,583.7 1431.3,578.9 1436.5,574.3 1441.6,570.1 1446.7,565.5 1451.9,560.4 1457,553.6 1462.1,546.5 1467.3,539.7 1472.4,533 1477.5,526.1 1482.7,518.9 1487.8,511.4 1492.9,504.3 1498.1,496.9 1503.2,489.4 1508.3,482.4 1513.5,474.7 1518.6,467.4 1523.7,460.6 1528.9,453.5 1534,446.7 1539.1,439.4 1544.3,432.4 1549.4,425.8 1554.5,418.6 1559.7,411.5 1564.8,404.6 1569.9,398.2 1575.1,391.2 1580.2,384.3 1585.3,377.6 1590.5,371.1 1595.6,364.1 1600.7,357.5 1605.9,350.4 1611,343.5 1616.1,336.6 1621.3,331.8 1626.4,327.4 1631.5,323.2 1636.7,319.3 1641.8,317 1646.9,314.1 1652.1,310.7 1657.2,307.1 1662.3,303.8 1667.5,300.9 1672.6,298.9 1677.7,296.6 1682.9,294.9 1688,293 1693.1,291.2 1698.3,288.7 1703.4,285.1 1708.5,281.9 1713.7,279.6 1718.8,278 1723.9,276.1 1729.1,274.8 1734.2,273.5 1739.3,272.4 1744.5,271.3 1749.6,269.9 1754.7,268.7 1759.9,269.1 1765,271 1770.1,273.4 1775.3,275 1780.4,276.6 1785.5,278.3 1790.7,279.6 1795.8,281.5 1800.9,283.1 1806.1,285.4 1811.2,287.6 1816.3,289 1821.5,291.1 1826.6,292.4 1831.7,294.5 1836.9,297.1 1842,299.4 1847.1,302.2 1852.3,305 1857.4,307.5 1862.5,309.3 1867.7,310.5 1872.8,311.8 1877.9,312.8 1883.1,314.5 1888.2,316.3 1893.3,317.9 1898.5,319.5 1903.6,320.7 1908.7,321.6 1913.9,321.5 1919,321.6 1924.1,321.7 1929.3,320.1 1934.4,318.2" fill="none" stroke="#3185b3" stroke-width="1.2" stroke-linejoin="round"/>
<polyline points="-0.9,1261.9 4.3,1255.7 9.4,1249.1 14.5,1242.8 19.7,1237 24.8,1231.5 29.9,1226.3 35.1,1221.4 40.2,1216.7 45.3,1212.5 50.5,1208.6 55.6,1205 60.7,1201.7 65.9,1198.6 71,1195.8 76.1,1193.2 81.3,1190.8 86.4,1188.6 91.5,1186.5 96.7,1184.6 101.8,1182.8 106.9,1181.2 112.1,1173.3 117.2,1167.4 122.3,1161.3 127.5,1154.5 132.6,1145.1 137.7,1125.6 142.9,1101.4 148,1079.8 153.1,1056.9 158.3,1041.9 163.4,1027.5 168.5,1013.7 173.7,1000.6 178.8,989.8 183.9,977.8 189.1,962.7 194.2,949.8 199.3,939.6 204.5,928.6 209.6,919.4 214.7,914.7 219.9,910.7 225,907 230.1,903.1 235.3,899.8 240.4,897.9 245.5,895.6 250.7,893.7 255.8,894 260.9,893.1 266.1,891.1 271.2,889.4 276.3,887.1 281.5,884.7 286.6,883.3 291.7,882.1 296.9,881.8 302,880.7 307.1,878.6 312.3,875.5 317.4,872 322.5,868.9 327.7,867.9 332.8,867.5 337.9,864.3 343.1,861.2 348.2,859.8 353.3,858.4 358.5,858.7 363.6,859.4 368.7,857.8 373.9,857.8 379,856.1 384.1,853.9 389.3,853.3 394.4,852.5 399.5,852.1 404.7,852.5 409.8,851.2 414.9,844.4 420.1,837.3 425.2,832.8 430.3,828.2 435.5,828.6 440.6,826.8 445.7,825.5 450.9,826 456,827.8 461.1,830.7 466.3,830.3 471.4,831.4 476.5,831.2 481.7,831.2 486.8,830.7 491.9,830.6 497.1,830.3 502.2,830.1 507.3,827.6 512.5,823.9 517.6,821.4 522.7,819.6 527.9,819.3 533,818.3 538.1,817.3 543.3,816.6 548.4,816.4 553.5,814.1 558.7,812.9 563.8,811.9 568.9,811.3 574.1,811.5 579.2,811.4 584.3,813.5 589.5,814.9 594.6,811.3 599.7,808.4 604.9,806.6 610,805.3 615.1,803.6 620.3,802.6 625.4,799.2 630.5,796.1 635.7,788 640.8,780 645.9,771.1 651.1,761 656.2,756.5 661.3,750.5 666.5,744.8 671.6,741.4 676.7,734 681.9,727.7 687,721 692.1,714.4 697.3,710.2 702.4,706.5 707.5,703.2 712.7,700 717.8,696.4 722.9,693.7 728.1,691.7 733.2,689.1 738.3,687.1 743.5,684.7 748.6,682.7 753.7,681.4 758.9,681.1 764,680.6 769.1,681 774.3,681.2 779.4,681.2 784.5,683.8 789.7,686.2 794.8,686.9 799.9,690.3 805.1,694.1 810.2,703.1 815.3,709.6 820.5,716.5 825.6,721.5 830.7,721.8 835.9,721 841,713.1 846.1,703.7 851.3,697.8 856.4,692.7 861.5,689.1 866.7,691.3 871.8,696.4 876.9,699.6 882.1,700.5 887.2,702.8 892.3,704.1 897.5,707.3 902.6,708.4 907.7,707.6 912.9,708.3 918,708.8 923.1,709.2 928.3,707.9 933.4,706.6 938.5,706.2 943.7,706.2 948.8,705.5 953.9,706 959.1,705.7 964.2,702.9 969.3,697.8 974.5,694.7 979.6,691 984.7,688.3 989.9,683.9 995,679.2 1000.1,675.6 1005.3,672.5 1010.4,670.7 1015.5,669.9 1020.7,670.4 1025.8,670.6 1030.9,679 1036.1,682.6 1041.2,685.5 1046.3,687.8 1051.5,689.8 1056.6,686.4 1061.7,682.6 1066.9,679.9 1072,676.7 1077.1,674.1 1082.3,674.4 1087.4,672.6 1092.5,670.8 1097.7,669 1102.8,666.1 1107.9,662.1 1113.1,655.4 1118.2,652.3 1123.3,649.8 1128.5,647.1 1133.6,644.5 1138.7,643.2 1143.9,641.6 1149,639.6 1154.1,637.9 1159.3,636.7 1164.4,635.3 1169.5,634.7 1174.7,635.8 1179.8,637.1 1184.9,637.9 1190.1,639.3 1195.2,640.9 1200.3,643.9 1205.5,648.4 1210.6,651.7 1215.7,652.3 1220.9,653.7 1226,655 1231.1,655.2 1236.3,653.8 1241.4,648.7 1246.5,645.9 1251.7,642.6 1256.8,638.6 1261.9,634.9 1267.1,633.3 1272.2,631.7 1277.3,630.4 1282.5,627.9 1287.6,627.2 1292.7,626.2 1297.9,626.7 1303,626.5 1308.1,626.6 1313.3,624.6 1318.4,621.4 1323.5,616.3 1328.7,612.8 1333.8,607.4 1338.9,603.1 1344.1,598.5 1349.2,594.8 1354.3,591.3 1359.5,587.7 1364.6,580.4 1369.7,573.7 1374.9,568 1380,562.2 1385.1,557.2 1390.3,550.6 1395.4,545.9 1400.5,539 1405.7,527.9 1410.8,513.1 1415.9,498.9 1421.1,488 1426.2,473.6 1431.3,460.6 1436.5,449.8 1441.6,442 1446.7,433.7 1451.9,422.8 1457,402.8 1462.1,383.1 1467.3,367.4 1472.4,353.5 1477.5,340.1 1482.7,328.2 1487.8,316.1 1492.9,306.6 1498.1,297.1 1503.2,288.7 1508.3,285.4 1513.5,279.6 1518.6,276.7 1523.7,274 1528.9,271 1534,269.7 1539.1,265.2 1544.3,260.6 1549.4,255.2 1554.5,248.7 1559.7,243 1564.8,237.7 1569.9,235.3 1575.1,231.6 1580.2,229 1585.3,228.1 1590.5,226.4 1595.6,224.1 1600.7,223.5 1605.9,221.8 1611,220.9 1616.1,220.4 1621.3,229.4 1626.4,238.8 1631.5,245.9 1636.7,255.7 1641.8,271.1 1646.9,282 1652.1,288.7 1657.2,293.8 1662.3,300.4 1667.5,307.8 1672.6,315.9 1677.7,320.9 1682.9,329.7 1688,335.9 1693.1,342.1 1698.3,341.8 1703.4,336.4 1708.5,330.8 1713.7,326.7 1718.8,321.8 1723.9,315 1729.1,314.2 1734.2,309.2 1739.3,305.2 1744.5,302.9 1749.6,301.5 1754.7,299.6 1759.9,303.7 1765,306 1770.1,309.2 1775.3,309.5 1780.4,310.5 1785.5,310.8 1790.7,309.2 1795.8,309.4 1800.9,310.1 1806.1,313 1811.2,316 1816.3,318.1 1821.5,320.9 1826.6,321.5 1831.7,326.8 1836.9,333.4 1842,339.1 1847.1,344.4 1852.3,348.2 1857.4,348.9 1862.5,343.4 1867.7,335.7 1872.8,329 1877.9,323.3 1883.1,321.3 1888.2,320.3 1893.3,319.9 1898.5,318.6 1903.6,314.2 1908.7,310.5 1913.9,299.6 1919,291.9 1924.1,285 1929.3,279.1 1934.4,273.1" fill="none" stroke="#808080" stroke-width="1" stroke-linejoin="round"/>
<polyline points="-0.9,1262.2 4.3,1258.6 9.4,1254.3 14.5,1249.8 19.7,1245.2 24.8,1240.5 29.9,1235.5 35.1,1230.4 40.2,1225.1 45.3,1219.7 50.5,1214.3 55.6,1209 60.7,1203.9 65.9,1199.1 71,1194.4 76.1,1189.9 81.3,1185.7 86.4,1181.9 91.5,1178.7 96.7,1176 101.8,1173.9 106.9,1172.3 112.1,1167.9 117.2,1164.3 122.3,1160.4 127.5,1156 132.6,1149.9 137.7,1138.2 142.9,1123.1 148,1108.2 153.1,1091.7 158.3,1078.1 163.4,1064.1 168.5,1049.8 173.7,1035.1 178.8,1021 183.9,1005.8 189.1,988.4 194.2,971.4 199.3,955.3 204.5,938.2 209.6,921.5 214.7,910.1 219.9,898.1 225,886.6 230.1,875.4 235.3,866 240.4,863 245.5,863.1 250.7,863.2 255.8,866 260.9,865.3 266.1,864.3 271.2,863.9 276.3,863.3 281.5,862.1 286.6,862.4 291.7,864.9 296.9,867.5 302,868.9 307.1,870.6 312.3,871.3 317.4,869.7 322.5,868.1 327.7,867.4 332.8,867.3 337.9,865.6 343.1,863.2 348.2,861.8 353.3,860.3 358.5,858.6 363.6,857.6 368.7,856.2 373.9,855.4 379,854.1 384.1,852.7 389.3,851.6 394.4,850.3 399.5,848.7 404.7,848 409.8,847 414.9,843.7 420.1,840.3 425.2,837.8 430.3,834.1 435.5,832.6 440.6,831.3 445.7,830.4 450.9,829.6 456,829.6 461.1,829.4 466.3,827.4 471.4,827.4 476.5,826 481.7,825.6 486.8,825.2 491.9,824.3 497.1,823.4 502.2,822.4 507.3,819.8 512.5,817.3 517.6,818.2 522.7,819.8 527.9,821.1 533,822.4 538.1,821.1 543.3,821.1 548.4,821.2 553.5,819.3 558.7,817.1 563.8,814.3 568.9,813.3 574.1,811.9 579.2,810.9 584.3,811 589.5,811.1 594.6,808.5 599.7,806.2 604.9,804.3 610,803.7 615.1,803.6 620.3,803.4 625.4,801.6 630.5,799.2 635.7,794.2 640.8,789.1 645.9,782.9 651.1,775.4 656.2,771.5 661.3,766.1 666.5,760.5 671.6,755.7 676.7,748.2 681.9,741.1 687,732.2 692.1,723.5 697.3,718.1 702.4,712.6 707.5,706.7 712.7,700.6 717.8,694.3 722.9,688 728.1,683.4 733.2,678.2 738.3,676.1 743.5,674 748.6,672.8 753.7,673.1 758.9,671.3 764,670.4 769.1,670.1 774.3,668.8 779.4,669.7 784.5,671.7 789.7,674.3 794.8,676.4 799.9,679 805.1,681.9 810.2,687.8 815.3,692.9 820.5,698.9 825.6,703.9 830.7,706.5 835.9,709 841,707.4 846.1,705.1 851.3,704 856.4,702.7 861.5,701.5 866.7,703.4 871.8,706.4 876.9,708.7 882.1,710.1 887.2,710.9 892.3,711.3 897.5,713.5 902.6,713.3 907.7,711.8 912.9,708.1 918,705.2 923.1,701.8 928.3,698.1 933.4,696.6 938.5,696 943.7,699.4 948.8,703.7 953.9,707.1 959.1,710.1 964.2,711.1 969.3,708 974.5,704 979.6,700.3 984.7,698 989.9,693.8 995,689.7 1000.1,685 1005.3,681.1 1010.4,678.8 1015.5,676.2 1020.7,674.3 1025.8,672.2 1030.9,675.4 1036.1,676.5 1041.2,677.1 1046.3,677.2 1051.5,677.7 1056.6,674.9 1061.7,672.1 1066.9,670.9 1072,670.8 1077.1,670 1082.3,671.1 1087.4,670.7 1092.5,671.3 1097.7,672.2 1102.8,672.1 1107.9,671.1 1113.1,668 1118.2,666 1123.3,663.6 1128.5,661 1133.6,654.1 1138.7,649.8 1143.9,645.5 1149,641 1154.1,636.7 1159.3,635.2 1164.4,633.9 1169.5,632.7 1174.7,632.7 1179.8,632.7 1184.9,631.1 1190.1,631 1195.2,631.1 1200.3,632.1 1205.5,634.7 1210.6,637.7 1215.7,641 1220.9,643.2 1226,645.3 1231.1,647.1 1236.3,648.1 1241.4,646.6 1246.5,646.2 1251.7,645.8 1256.8,644.7 1261.9,643.5 1267.1,643.3 1272.2,642.6 1277.3,641.2 1282.5,638.9 1287.6,637.7 1292.7,635.9 1297.9,634.7 1303,632.3 1308.1,629.1 1313.3,625.2 1318.4,621.9 1323.5,616.9 1328.7,612.5 1333.8,607.5 1338.9,603.5 1344.1,601.3 1349.2,598.3 1354.3,595.6 1359.5,593.3 1364.6,588.9 1369.7,583.4 1374.9,578.3 1380,572.8 1385.1,568.1 1390.3,561.4 1395.4,555.7 1400.5,547.7 1405.7,537.6 1410.8,524.9 1415.9,512.8 1421.1,502.5 1426.2,490.9 1431.3,478.8 1436.5,468.3 1441.6,458.7 1446.7,448.7 1451.9,436.6 1457,419.4 1462.1,401.5 1467.3,386.8 1472.4,372.4 1477.5,357.4 1482.7,342.7 1487.8,327.3 1492.9,313.7 1498.1,299 1503.2,285.8 1508.3,277.4 1513.5,270 1518.6,264.2 1523.7,257.5 1528.9,252.8 1534,248.7 1539.1,242.5 1544.3,235 1549.4,227.4 1554.5,220.8 1559.7,219.6 1564.8,219.2 1569.9,218.9 1575.1,217.6 1580.2,217.2 1585.3,217.4 1590.5,217.9 1595.6,217.2 1600.7,217.7 1605.9,217.6 1611,215.5 1616.1,215 1621.3,218.3 1626.4,222.3 1631.5,225.8 1636.7,230.4 1641.8,240.1 1646.9,248.6 1652.1,256 1657.2,263.8 1662.3,272.5 1667.5,282 1672.6,291 1677.7,299.7 1682.9,310.1 1688,318.9 1693.1,328.4 1698.3,335.2 1703.4,338.6 1708.5,342.2 1713.7,345.9 1718.8,348.9 1723.9,345.7 1729.1,344.6 1734.2,342.1 1739.3,338 1744.5,331.2 1749.6,326.3 1754.7,322.8 1759.9,322.8 1765,321 1770.1,319.1 1775.3,315.1 1780.4,312.6 1785.5,307.6 1790.7,302.6 1795.8,298.1 1800.9,297 1806.1,299.8 1811.2,303.1 1816.3,305.7 1821.5,309.3 1826.6,313.1 1831.7,316.7 1836.9,323.4 1842,329.7 1847.1,335.3 1852.3,340.2 1857.4,343.8 1862.5,341.3 1867.7,338 1872.8,334.3 1877.9,332.1 1883.1,331.2 1888.2,331.1 1893.3,332.3 1898.5,332 1903.6,329.8 1908.7,326.5 1913.9,319.1 1919,313.1 1924.1,306.7 1929.3,301.5 1934.4,293.4" fill="none" stroke="#1a1a1a" stroke-width="1.2" stroke-linejoin="round"/>
</g>
<path d="M12 148.8H1880" stroke="#8a8d96" stroke-width="1.3" stroke-dasharray="1.5 2.5"/>
<path d="M598.7 569.8L1319.6 572.9" stroke="#2d5fe4" stroke-width="4.4" stroke-linecap="round"/>
<path d="M660.9 905.6L1319 652.6" stroke="#2d5fe4" stroke-width="4.4" stroke-linecap="round"/>
<text x="813" y="380.5" font-size="50" fill="#1616c6" textLength="298.6" lengthAdjust="spacingAndGlyphs" style="font-family:&quot;Liberation Sans&quot;, &quot;Noto Sans CJK SC&quot;, sans-serif">上升三角形态</text>
<text x="832" y="464.2" font-size="28.5" fill="#1c1cb6" stroke="#1c1cb6" stroke-width="0.15" textLength="267" lengthAdjust="spacingAndGlyphs">Ascending Triangle</text>
<text x="459" y="480" font-size="40" fill="#1616c6" textLength="77.2" lengthAdjust="spacingAndGlyphs" style="font-family:&quot;Liberation Sans&quot;, &quot;Noto Sans CJK SC&quot;, sans-serif">压力</text>
<text x="430" y="565.4" font-size="28.5" fill="#1c1cb6" stroke="#1c1cb6" stroke-width="0.15" textLength="154.1" lengthAdjust="spacingAndGlyphs">Resistance</text>
<text x="551.5" y="925.5" font-size="40" fill="#1616c6" textLength="77.5" lengthAdjust="spacingAndGlyphs" style="font-family:&quot;Liberation Sans&quot;, &quot;Noto Sans CJK SC&quot;, sans-serif">支撑</text>
<text x="527" y="966.4" font-size="28.5" fill="#1c1cb6" stroke="#1c1cb6" stroke-width="0.15" textLength="113.2" lengthAdjust="spacingAndGlyphs">Support</text>
<text x="1378" y="792" font-size="48.5" fill="#22b1ca" textLength="187.5" lengthAdjust="spacingAndGlyphs">Breakout</text>
<text x="12.8" y="24.8" font-size="15" fill="#131722" textLength="436.6" lengthAdjust="spacingAndGlyphs" style="font-family:&quot;Liberation Sans&quot;, &quot;Noto Sans CJK JP&quot;, sans-serif">deniztsaii發表於TradingView.com，三月 12, 2025 18:27 UTC+8</text>
<text x="22.6" y="58" font-size="14.2" fill="#131722" textLength="431.3" lengthAdjust="spacingAndGlyphs">Bitcoin / TetherUS PERPETUAL CONTRACT · 4小時 · BINANCE</text>
<text x="463.8" y="58" font-size="14.2" fill="#131722" textLength="23.2" lengthAdjust="spacingAndGlyphs">開=</text>
<text x="487" y="58" font-size="14.2" fill="#d44a5c" textLength="63.2" lengthAdjust="spacingAndGlyphs">82,402.8</text>
<text x="559.5" y="58" font-size="14.2" fill="#131722" textLength="23.2" lengthAdjust="spacingAndGlyphs">高=</text>
<text x="582.7" y="58" font-size="14.2" fill="#d44a5c" textLength="61.5" lengthAdjust="spacingAndGlyphs">82,887.4</text>
<text x="654.2" y="58" font-size="14.2" fill="#131722" textLength="24.4" lengthAdjust="spacingAndGlyphs">低=</text>
<text x="678.6" y="58" font-size="14.2" fill="#d44a5c" textLength="59.8" lengthAdjust="spacingAndGlyphs">81,980.0</text>
<text x="748" y="58" font-size="14.2" fill="#131722" textLength="23.9" lengthAdjust="spacingAndGlyphs">收=</text>
<text x="771.9" y="58" font-size="14.2" fill="#d44a5c" textLength="57.1" lengthAdjust="spacingAndGlyphs">82,217.8</text>
<text x="839.2" y="58" font-size="14.2" fill="#d44a5c" textLength="112.8" lengthAdjust="spacingAndGlyphs">−185.1 (−0.22%)</text>
<text x="962.3" y="58" font-size="14.2" fill="#131722" textLength="43.9" lengthAdjust="spacingAndGlyphs">成交量</text>
<text x="1006.7" y="58" font-size="14.2" fill="#d44a5c" textLength="50.6" lengthAdjust="spacingAndGlyphs">28.07 K</text>
<text x="1066.5" y="58" font-size="14.2" fill="#d44a5c" textLength="116.2" lengthAdjust="spacingAndGlyphs">−675.5 (−0.81%)</text>
<rect x="1942.5" y="38.5" width="86" height="31.5" rx="4" fill="#fff" stroke="#eef0f3" stroke-width="1"/>
<text x="1953" y="59.5" font-size="15" fill="#131722" textLength="39" lengthAdjust="spacingAndGlyphs">USDT</text>
<text x="2012.5" y="138.1" font-size="14.2" fill="#131722" text-anchor="end" textLength="64.5" lengthAdjust="spacingAndGlyphs">45,000.0</text>
<text x="2012.5" y="205.6" font-size="14.2" fill="#131722" text-anchor="end" textLength="64.5" lengthAdjust="spacingAndGlyphs">44,000.0</text>
<text x="2012.5" y="408.1" font-size="14.2" fill="#131722" text-anchor="end" textLength="64.5" lengthAdjust="spacingAndGlyphs">41,000.0</text>
<text x="2012.5" y="475.6" font-size="14.2" fill="#131722" text-anchor="end" textLength="64.5" lengthAdjust="spacingAndGlyphs">40,000.0</text>
<text x="2012.5" y="543.1" font-size="14.2" fill="#131722" text-anchor="end" textLength="64.5" lengthAdjust="spacingAndGlyphs">39,000.0</text>
<text x="2012.5" y="610.6" font-size="14.2" fill="#131722" text-anchor="end" textLength="64.5" lengthAdjust="spacingAndGlyphs">38,000.0</text>
<text x="2012.5" y="678.1" font-size="14.2" fill="#131722" text-anchor="end" textLength="64.5" lengthAdjust="spacingAndGlyphs">37,000.0</text>
<text x="2012.5" y="745.6" font-size="14.2" fill="#131722" text-anchor="end" textLength="64.5" lengthAdjust="spacingAndGlyphs">36,000.0</text>
<text x="2012.5" y="813.1" font-size="14.2" fill="#131722" text-anchor="end" textLength="64.5" lengthAdjust="spacingAndGlyphs">35,000.0</text>
<text x="2012.5" y="880.6" font-size="14.2" fill="#131722" text-anchor="end" textLength="64.5" lengthAdjust="spacingAndGlyphs">34,000.0</text>
<text x="2012.5" y="948.1" font-size="14.2" fill="#131722" text-anchor="end" textLength="64.5" lengthAdjust="spacingAndGlyphs">33,000.0</text>
<text x="2012.5" y="1015.6" font-size="14.2" fill="#131722" text-anchor="end" textLength="64.5" lengthAdjust="spacingAndGlyphs">32,000.0</text>
<text x="2012.5" y="1083.1" font-size="14.2" fill="#131722" text-anchor="end" textLength="64.5" lengthAdjust="spacingAndGlyphs">31,000.0</text>
<rect x="1881" y="138.5" width="54.5" height="20.5" fill="#e1e8f3"/>
<text x="1886" y="154" font-size="14.5" fill="#131722" textLength="45" lengthAdjust="spacingAndGlyphs">最高價</text>
<rect x="1938" y="138.5" width="80" height="20.5" fill="#e1e8f3"/>
<text x="2012" y="154" font-size="14.5" fill="#131722" text-anchor="end" textLength="64.5" lengthAdjust="spacingAndGlyphs">44,779.3</text>
<rect x="1938.5" y="205.5" width="80" height="19.8" rx="2" fill="#fff" stroke="#22a58e" stroke-width="1.2"/>
<text x="2012" y="220.5" font-size="14.5" fill="#22a58e" text-anchor="end" textLength="64.5" lengthAdjust="spacingAndGlyphs">43,794.8</text>
<rect x="1938.2" y="263.1" width="80.3" height="19.8" rx="2" fill="#fff" stroke="#4a4a4a" stroke-width="1.3"/>
<text x="2012" y="278.2" font-size="14.5" fill="#2a2a2a" text-anchor="end" textLength="64.5" lengthAdjust="spacingAndGlyphs">42,938.9</text>
<rect x="1938.2" y="283.9" width="80.3" height="19.8" rx="2" fill="#fff" stroke="#1a1a1a" stroke-width="1.3"/>
<text x="2012" y="299.0" font-size="14.5" fill="#2a2a2a" text-anchor="end" textLength="64.5" lengthAdjust="spacingAndGlyphs">42,637.5</text>
<rect x="1938.2" y="305" width="80.3" height="19.8" rx="2" fill="#fff" stroke="#5aa6de" stroke-width="1.3"/>
<text x="2012" y="320.1" font-size="14.5" fill="#4a8cc2" text-anchor="end" textLength="64.5" lengthAdjust="spacingAndGlyphs">42,467.2</text>
<rect x="1938.2" y="326" width="80.3" height="19.8" rx="2" fill="#fff" stroke="#2a88b8" stroke-width="1.3"/>
<text x="2012" y="341.1" font-size="14.5" fill="#3a86a6" text-anchor="end" textLength="64.5" lengthAdjust="spacingAndGlyphs">42,270.8</text>
<rect x="1938.2" y="347.2" width="80.3" height="19.8" rx="2" fill="#fff" stroke="#5b2a86" stroke-width="1.3"/>
<text x="2012" y="362.3" font-size="14.5" fill="#8a3c96" text-anchor="end" textLength="64.5" lengthAdjust="spacingAndGlyphs">42,203.8</text>
<rect x="1938.2" y="368.4" width="80.3" height="19.8" rx="2" fill="#fff" stroke="#8d3f9c" stroke-width="1.3"/>
<text x="2012" y="383.5" font-size="14.5" fill="#7c3a8a" text-anchor="end" textLength="64.5" lengthAdjust="spacingAndGlyphs">41,694.4</text>
<text x="71.0" y="1234.6" font-size="14.3" fill="#131722" text-anchor="middle">22</text>
<text x="163.4" y="1234.6" font-size="14.3" fill="#131722" text-anchor="middle">25</text>
<text x="255.8" y="1234.6" font-size="14.3" fill="#131722" text-anchor="middle">28</text>
<text x="379.0" y="1234.6" font-size="14" fill="#131722" text-anchor="middle" textLength="41.5" lengthAdjust="spacingAndGlyphs">十一月</text>
<text x="471.4" y="1234.6" font-size="14.3" fill="#131722" text-anchor="middle">4</text>
<text x="563.8" y="1234.6" font-size="14.3" fill="#131722" text-anchor="middle">7</text>
<text x="656.2" y="1234.6" font-size="14.3" fill="#131722" text-anchor="middle">10</text>
<text x="748.6" y="1234.6" font-size="14.3" fill="#131722" text-anchor="middle">13</text>
<text x="841.0" y="1234.6" font-size="14.3" fill="#131722" text-anchor="middle">16</text>
<text x="933.4" y="1234.6" font-size="14.3" fill="#131722" text-anchor="middle">19</text>
<text x="1025.8" y="1234.6" font-size="14.3" fill="#131722" text-anchor="middle">22</text>
<text x="1118.2" y="1234.6" font-size="14.3" fill="#131722" text-anchor="middle">25</text>
<text x="1210.6" y="1234.6" font-size="14.3" fill="#131722" text-anchor="middle">28</text>
<text x="1303.0" y="1234.6" font-size="14" fill="#131722" text-anchor="middle" textLength="41.5" lengthAdjust="spacingAndGlyphs">十二月</text>
<text x="1395.4" y="1234.6" font-size="14.3" fill="#131722" text-anchor="middle">4</text>
<text x="1487.8" y="1234.6" font-size="14.3" fill="#131722" text-anchor="middle">7</text>
<text x="1580.2" y="1234.6" font-size="14.3" fill="#131722" text-anchor="middle">10</text>
<text x="1672.6" y="1234.6" font-size="14.3" fill="#131722" text-anchor="middle">13</text>
<text x="1765.0" y="1234.6" font-size="14.3" fill="#131722" text-anchor="middle">16</text>
<text x="1857.4" y="1234.6" font-size="14.3" fill="#131722" text-anchor="middle">19</text>
<path d="M12.5 1260.6H22V1272.8H17.2V1265.4H12.5Z" fill="#131722"/>
<circle cx="26.2" cy="1263.2" r="2.3" fill="#131722"/>
<path d="M31.9 1260.6H36.4L31.5 1272.8H27Z" fill="#131722"/>
<text x="42" y="1273.2" font-size="16" fill="#131722" textLength="91" lengthAdjust="spacingAndGlyphs">TradingView</text>
</svg></body></html>
